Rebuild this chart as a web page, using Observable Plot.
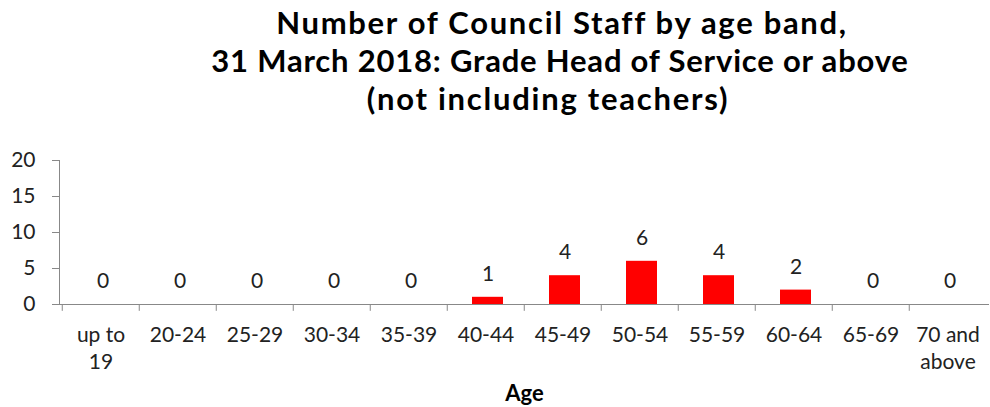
<!DOCTYPE html>
<html><head><meta charset="utf-8">
<script src="https://cdn.jsdelivr.net/npm/d3@7"></script>
<script src="https://cdn.jsdelivr.net/npm/@observablehq/plot@0.6"></script>
<style>
body{margin:0;background:#fff;overflow:hidden;width:990px;height:407px;font-family:Lato,sans-serif}
#title{height:130px;position:relative;font-weight:bold;font-size:31px;color:#000}
#title div{position:absolute;left:0;text-align:center;line-height:38px;white-space:nowrap}
#chart svg{display:block}
</style></head><body>
<div id="title"></div>
<div id="chart"></div>
<script>
const categories = ["up to\n19","20-24","25-29","30-34","35-39","40-44","45-49","50-54","55-59","60-64","65-69","70 and\nabove"];
const values = [0,0,0,0,0,1,4,6,4,2,0,0];
const yTicks = [0,5,10,15,20];
const titleLines = ["Number of Council Staff by age band,","31 March 2018: Grade Head of Service or above","(not including teachers)"];
const titleCenters = [562, 560, 548];
const titleSpacing = [1.7, 0.8, 1.75];
const axisLabel = "Age";

const titleEl = document.getElementById("title");
titleLines.forEach((t,i)=>{
  const d = document.createElement("div");
  d.textContent = t;
  d.style.width = (2*titleCenters[i]) + "px";
  d.style.top = (3 + i*38) + "px";
  d.style.letterSpacing = titleSpacing[i] + "px";
  titleEl.appendChild(d);
});

const data = categories.map((c,i)=>({age:c, n: values[i]}));
const bw = (990 - 59 - 1) / categories.length;

const chart = Plot.plot({
  width: 990, height: 277,
  marginLeft: 59, marginRight: 1, marginTop: 30, marginBottom: 103,
  style: {fontFamily: "Lato, sans-serif", fontSize: "21px", color: "#222", background: "#fff"},
  x: {domain: categories, padding: 0, label: null},
  y: {domain: [0, 20], label: null},
  marks: [
    Plot.barY(data, {x: "age", y: "n", fill: "#ff0000", insetLeft: 25, insetRight: 21}),
    Plot.text(data, {x: "age", y: "n", text: d => String(d.n), dy: -23, dx: 2, fontSize: 21, fill: "#222"}),
    Plot.ruleY([0], {stroke: "#888"}),
    Plot.frame({anchor: "left", stroke: "#888"}),
    Plot.ruleX(categories, {x: d => d, dx: -bw/2, y1: 0, y2: -0.95, stroke: "#888"}),
    Plot.axisY(yTicks, {tickSize: 7, tickPadding: 17, stroke: "#888", fill: "#222", fontSize: 21, label: null}),
    Plot.axisX({tickSize: 0, tickPadding: 18, fill: "#222", fontSize: 21, lineHeight: 27/21, label: null}),
    Plot.text([axisLabel], {frameAnchor: "bottom", dy: 89, lineAnchor: "middle", fontWeight: "bold", fontSize: 22, fill: "#000"})
  ]
});
document.getElementById("chart").appendChild(chart);
</script>
</body></html>
